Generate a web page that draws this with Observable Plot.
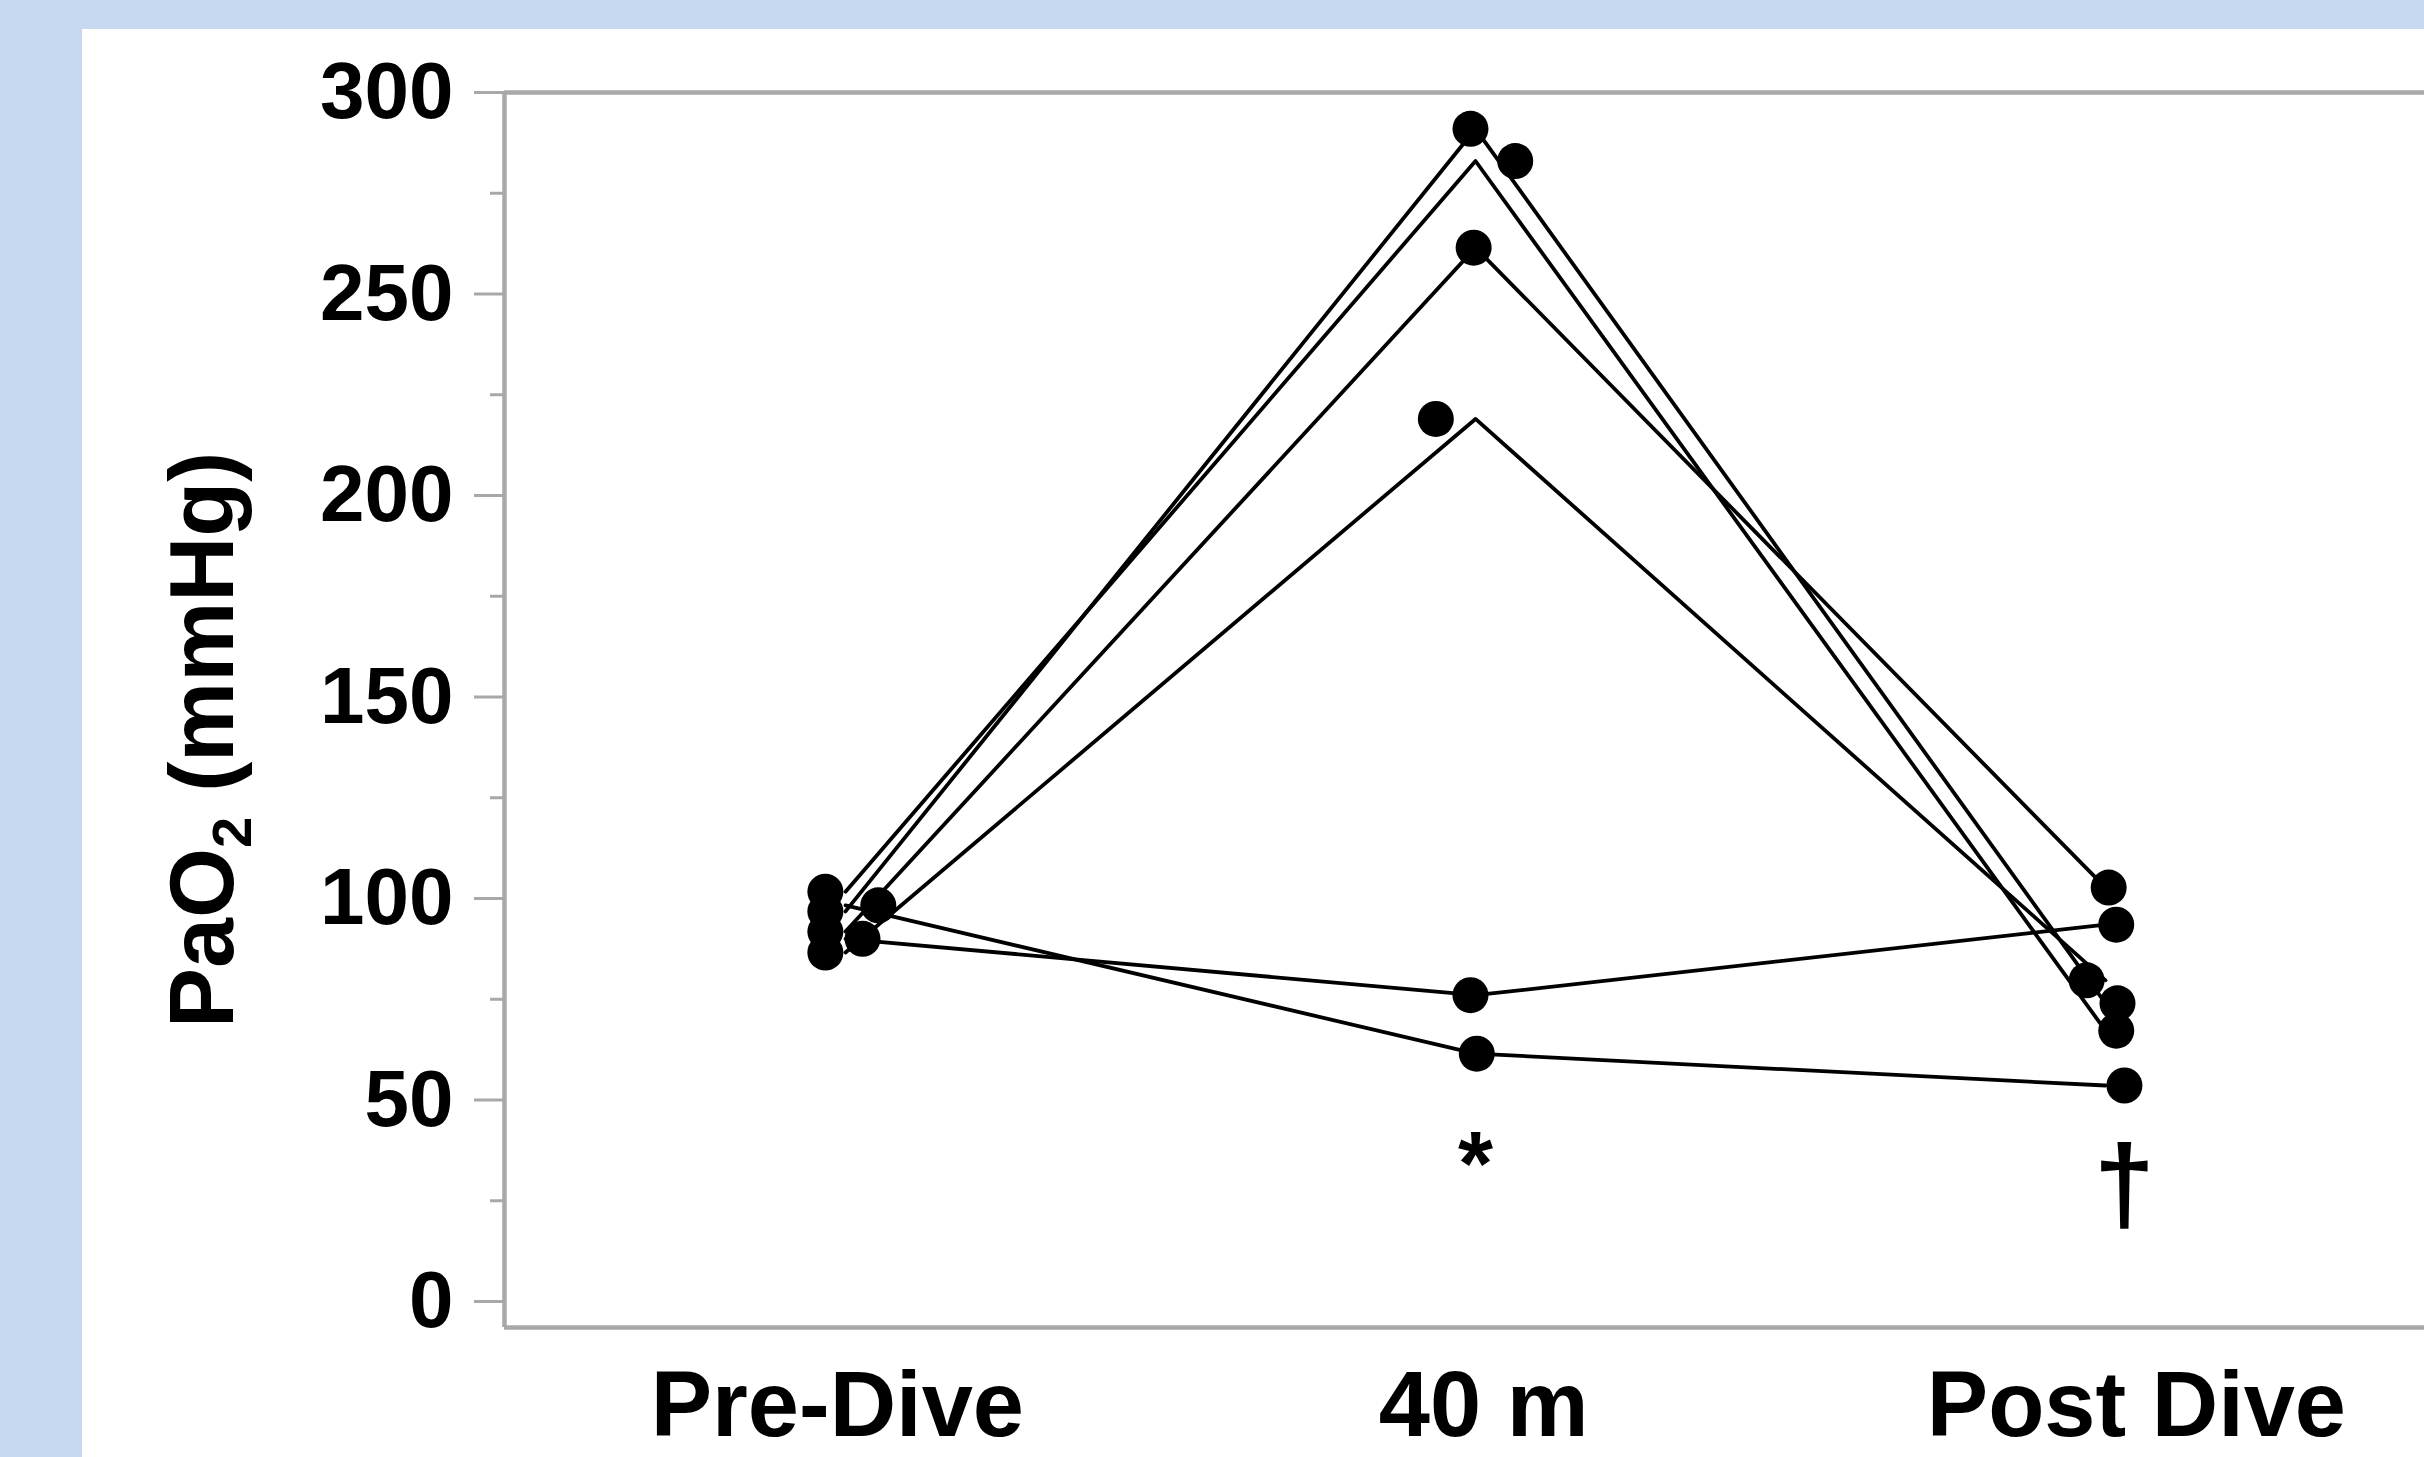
<!DOCTYPE html>
<html>
<head>
<meta charset="utf-8">
<script src="https://cdn.jsdelivr.net/npm/d3@7"></script>
<script src="https://cdn.jsdelivr.net/npm/@observablehq/plot@0.6"></script>
<style>
  html, body { margin: 0; padding: 0; }
  body { background: #c6d9f0; width: 2424px; height: 1457px; overflow: hidden; position: relative; }
  #panel { position: absolute; left: 82px; top: 29px; width: 2342px; height: 1428px; background: #ffffff; }
  #panel svg { display: block; }
</style>
</head>
<body>
<div id="panel"></div>
<script>
// ---- Data ----
const categories = ["Pre-Dive", "40 m", "Post Dive"];
// where each category label sits along x (category units)
const categoryLabelPos = [-0.013, 1.013, 2.049];
const subjects = ["S1", "S2", "S3", "S4", "S5", "S6"];
// PaO2 (mmHg) per subject at each time point
const preDive  = [96.8, 101.7, 91.8, 86.6, 90.0, 98.3];
const depth40  = [291.0, 283.0, 261.5, 219.0, 76.0, 61.5];
const postDive = [74.0, 67.2, 102.7, 79.7, 93.5, 53.6];
// horizontal jitter of the dots (in category units) as seen in the picture
const preJitter   = [-0.032, -0.032, -0.032, -0.032, 0.027, 0.052];
const depthJitter = [-0.008, 0.063, -0.003, -0.063, -0.008, 0.002];
const postJitter  = [0.019, 0.017, 0.005, -0.030, 0.017, 0.030];
// y-axis ticks
const majorTicks = [0, 50, 100, 150, 200, 250, 300];
const minorTicks = [25, 75, 125, 175, 225, 275];
// significance markers
const markerText = ["*", "†"];
const markerCat  = [1, 2.03];
const markerY    = [26.5, 19.9];
const markerSize = [90, 110];
const yTitle = "PaO2 (mmHg)";

// ---- Build tables ----
const series = [preDive, depth40, postDive];
const jitters = [preJitter, depthJitter, postJitter];
const rows = [];
subjects.forEach((s, si) => {
  series.forEach((vals, ci) => {
    rows.push({subject: s, cat: ci, value: vals[si], jitter: jitters[ci][si]});
  });
});
const markers = markerText.map((t, i) => ({text: t, x: markerCat[i], y: markerY[i], size: markerSize[i]}));
const catLabels = categories.map((c, i) => ({label: c, x: categoryLabelPos[i]}));

const axisGray = "#a8a8a8";
const xLeft = -0.5413, xRight = 2.5063, yBottom = -6.45, yTop = 300;

const chart = Plot.plot({
  width: 2342,
  height: 1428,
  marginLeft: 422,
  marginRight: 0,
  marginTop: 63,
  marginBottom: 130,
  x: {domain: [xLeft, xRight], axis: null},
  y: {domain: [yBottom, yTop]},
  style: {fontFamily: "'Liberation Sans', Arial, Helvetica, sans-serif", background: "white", color: "black", overflow: "visible"},
  marks: [
    Plot.axisY({ticks: minorTicks, tickSize: 14, tickFormat: () => "", stroke: axisGray, strokeWidth: 3, label: null}),
    Plot.axisY({ticks: majorTicks, tickSize: 30, tickPadding: 21, fontSize: 80, fontWeight: "bold", stroke: axisGray, strokeWidth: 3, label: null}),
    Plot.text(catLabels, {x: "x", text: "label", frameAnchor: "bottom", lineAnchor: "top", dy: 43, fontSize: 92, fontWeight: "bold", fill: "black"}),
    Plot.ruleY([yTop], {stroke: axisGray, strokeWidth: 4.5}),
    Plot.ruleY([yBottom], {stroke: axisGray, strokeWidth: 4.5}),
    Plot.ruleX([xLeft], {stroke: axisGray, strokeWidth: 4.5}),
    Plot.line(rows, {x: "cat", y: "value", z: "subject", stroke: "black", strokeWidth: 3.8}),
    Plot.dot(rows, {x: (d) => d.cat + d.jitter, y: "value", r: 18, fill: "black", stroke: null}),
    Plot.text(markers, {x: "x", y: "y", text: "text", fontSize: "size", fontWeight: "bold", lineAnchor: "bottom", fill: "black"}),
    Plot.text([yTitle], {frameAnchor: "left", textAnchor: "middle", rotate: -90, dx: -300, dy: 30, fontSize: 90, fontWeight: "bold", fill: "black", className: "ytitle"})
  ]
});

document.getElementById("panel").appendChild(chart);

// subscript the "2" in PaO2
const t = chart.querySelector(".ytitle text");
if (t) {
  const ns = "http://www.w3.org/2000/svg";
  t.textContent = "";
  const a = document.createElementNS(ns, "tspan"); a.textContent = "PaO";
  const b = document.createElementNS(ns, "tspan"); b.textContent = "2";
  b.setAttribute("font-size", "56"); b.setAttribute("dy", "0.32em");
  const c = document.createElementNS(ns, "tspan"); c.textContent = " (mmHg)";
  c.setAttribute("dy", "-0.2em");
  t.append(a, b, c);
}
</script>
</body>
</html>
